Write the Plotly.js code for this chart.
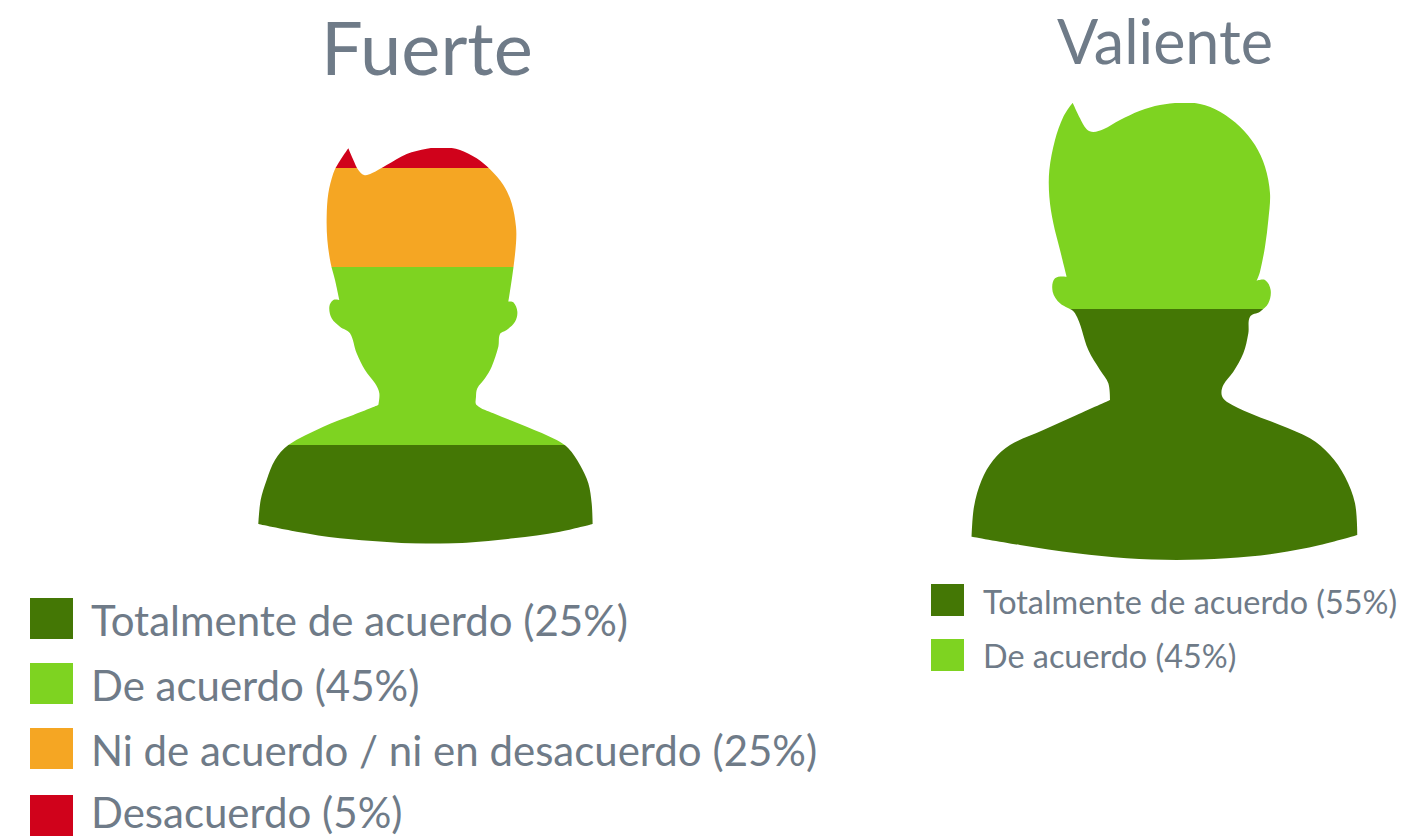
<!DOCTYPE html>
<html><head><meta charset="utf-8">
<script src="https://cdn.plot.ly/plotly-3.0.1.min.js"></script>
<style>html,body{margin:0;padding:0;background:#fff;overflow:hidden}#c{width:1404px;height:839px}</style>
</head><body><div id="c"></div>
<script>
// ---- data ----
const categories = ["Totalmente de acuerdo", "De acuerdo", "Ni de acuerdo / ni en desacuerdo", "Desacuerdo"];
const fuerteValues = [25, 45, 25, 5];
const valienteValues = [55, 45];
const colors = ["#447705", "#7ED321", "#F5A623", "#D0021B"];
const panelTitles = ["Fuerte", "Valiente"];
// silhouette outlines: pixels on the page, zoomed 3x relative to an origin
const fuerteOutlineX = [325,340,355,372,395,440,500,560,610,660,710,750,790,815,828,828,820,812,805,820,832,825,800,780,775,755,735,712,708,710,760,860,950,985,1020,1045,1055,1058,960,820,680,560,430,300,170,55,62,80,105,145,250,340,415,418,405,375,350,330,300,275,268,280,298,285,272,262,260,265,280,295];
const fuerteOutlineY = [55,90,120,135,130,105,72,56,52,60,85,118,165,220,290,340,415,470,515,517,545,575,600,612,650,710,745,775,800,825,850,890,930,955,1005,1060,1120,1182,1205,1225,1238,1242,1235,1225,1205,1182,1110,1050,990,945,890,855,825,790,760,720,670,610,590,565,530,510,510,450,400,330,260,190,130,100];
const fuerteCorners = [0, 18, 37, 45, 52, 62];
const valienteOutlineX = [338,360,380,400,430,480,540,600,660,720,780,840,885,915,930,925,915,900,890,915,932,925,900,870,865,850,820,790,785,800,870,960,1050,1110,1155,1185,1192,1080,950,800,650,500,350,180,35,42,65,100,150,250,350,450,445,420,385,345,300,278,285,320,300,280,268,268,285,310];
const valienteOutlineY = [38,85,118,126,118,90,62,45,38,42,65,110,165,230,310,390,470,545,572,570,600,640,665,680,730,790,845,885,915,935,970,1005,1045,1095,1160,1240,1335,1365,1390,1405,1410,1405,1390,1365,1340,1250,1170,1110,1065,1020,975,930,880,840,780,670,640,605,565,560,480,400,320,240,150,80];
const valienteCorners = [0, 18, 36, 44, 51, 59];

// ---- page geometry ----
const W = 1404, H = 839;
const px = x => x / W, py = y => 1 - y / H;

const heads = [
  {values: fuerteValues, ox: 240, oy: 130, xs: fuerteOutlineX, ys: fuerteOutlineY, corners: fuerteCorners, l: 255, r: 596, top: 148, bottom: 543.5, xa: "x", ya: "y"},
  {values: valienteValues, ox: 960, oy: 90, xs: valienteOutlineX, ys: valienteOutlineY, corners: valienteCorners, l: 968, r: 1361, top: 102.5, bottom: 560, xa: "x2", ya: "y2"}
];

const traces = [];
heads.forEach(h => {
  h.values.forEach((v, i) => traces.push({
    type: "bar", x: [0], y: [v], name: categories[i], xaxis: h.xa, yaxis: h.ya,
    marker: {color: colors[i], line: {width: 0}}, width: 1, showlegend: false, hoverinfo: "name+y"
  }));
});

// closed smooth path through the outline (sharp at the listed corners)
function outlinePath(h) {
  const pts = h.xs.map((zx, i) => [h.ox + zx / 3, h.oy + h.ys[i] / 3]);
  const n = pts.length;
  const dir = i => {
    if (h.corners.includes(i)) return [0, 0];
    const a = pts[(i - 1 + n) % n], b = pts[(i + 1) % n];
    const l = Math.hypot(b[0] - a[0], b[1] - a[1]) || 1;
    return [(b[0] - a[0]) / l, (b[1] - a[1]) / l];
  };
  let d = `M${px(pts[0][0])},${py(pts[0][1])}`;
  for (let i = 0; i < n; i++) {
    const j = (i + 1) % n, p = pts[i], q = pts[j], t0 = dir(i), t1 = dir(j);
    const s = Math.hypot(q[0] - p[0], q[1] - p[1]) / 3;
    d += `C${px(p[0] + t0[0] * s)},${py(p[1] + t0[1] * s)} ${px(q[0] - t1[0] * s)},${py(q[1] - t1[1] * s)} ${px(q[0])},${py(q[1])}`;
  }
  return d + "Z";
}

const shapes = [];
heads.forEach(h => {
  // white cover with a silhouette-shaped hole, so the stacked bar shows through it
  const m = 6;
  const d = `M${px(h.l - m)},${py(h.top - m)}L${px(h.r + m)},${py(h.top - m)}L${px(h.r + m)},${py(h.bottom + m)}L${px(h.l - m)},${py(h.bottom + m)}Z` + outlinePath(h);
  shapes.push({type: "path", xref: "paper", yref: "paper", path: d, fillcolor: "#fff", fillrule: "evenodd", line: {width: 0}, layer: "above"});
});

const textColor = "#6f7b88";
const annotations = [
  {text: panelTitles[0], x: px(426.5), y: py(47), size: 74},
  {text: panelTitles[1], x: px(1165), y: py(41), size: 61}
].map(t => ({text: t.text, x: t.x, y: t.y, xref: "paper", yref: "paper", xanchor: "center", yanchor: "middle", showarrow: false,
  font: {family: "Lato", size: t.size, color: textColor}}));

function legend(values, x, w, rowsTop, rowH, textX, textY, size) {
  values.forEach((v, i) => {
    const t = rowsTop[i];
    shapes.push({type: "rect", xref: "paper", yref: "paper", x0: px(x), x1: px(x + w), y0: py(t), y1: py(t + rowH),
      fillcolor: colors[i], line: {width: 0}, layer: "above"});
    annotations.push({text: categories[i] + " (" + v + "%)", x: px(textX), y: py(textY[i]), xref: "paper", yref: "paper",
      xanchor: "left", yanchor: "middle", showarrow: false, font: {family: "Lato", size: size, color: textColor}});
  });
}
legend(fuerteValues, 30, 43, [598, 663, 728, 795], 41, 89, [620, 685, 750, 812], 42);
legend(valienteValues, 931, 33, [584, 639], 32, 981, [601, 655], 32.4);

const axisBase = {visible: false, fixedrange: true};
const layout = {
  width: W, height: H, margin: {l: 0, r: 0, t: 0, b: 0}, paper_bgcolor: "#fff", plot_bgcolor: "#fff",
  barmode: "stack", bargap: 0, showlegend: false,
  xaxis: {...axisBase, domain: [px(heads[0].l), px(heads[0].r)], range: [-0.5, 0.5]},
  yaxis: {...axisBase, domain: [py(heads[0].bottom), py(heads[0].top)], range: [0, 100]},
  xaxis2: {...axisBase, domain: [px(heads[1].l), px(heads[1].r)], range: [-0.5, 0.5], anchor: "y2"},
  yaxis2: {...axisBase, domain: [py(heads[1].bottom), py(heads[1].top)], range: [0, 100], anchor: "x2"},
  shapes, annotations
};
Plotly.newPlot("c", traces, layout, {displayModeBar: false, responsive: false});
</script></body></html>
